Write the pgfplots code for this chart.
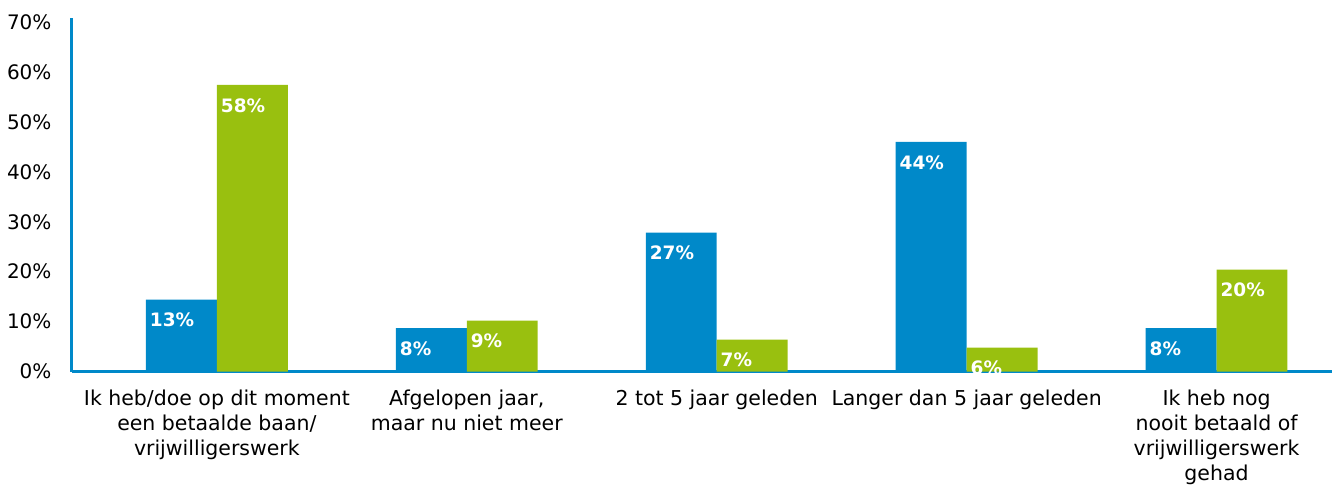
\documentclass[border=0pt]{standalone}
\usepackage{pgfplots}
\pgfplotsset{compat=1.18}
\usepackage{fontspec}
\setmainfont{DejaVu Sans}
\definecolor{cblue}{HTML}{0089C9}
\definecolor{cgreen}{HTML}{99C00F}
\begin{document}
\begin{tikzpicture}
\begin{axis}[
  scale only axis,
  width=1261pt, height=354pt,
  ymin=0, ymax=70.8,
  xmin=-0.58, xmax=4.46,
  ytick={0,10,...,70},
  yticklabel={\pgfmathprintnumber{\tick}\%},
  /pgf/number format/assume math mode=true,
  yticklabel style={font=\fontsize{20}{24}\selectfont, text=black, xshift=-17pt},
  xtick={0,1,2,3,4},
  xticklabels={{Ik heb/doe op dit moment\\een betaalde baan/\\vrijwilligerswerk},
               {Afgelopen jaar,\\maar nu niet meer},
               {2 tot 5 jaar geleden},
               {Langer dan 5 jaar geleden},
               {Ik heb nog\\nooit betaald of\\vrijwilligerswerk\\gehad}},
  xticklabel style={font=\fontsize{20.5}{25}\selectfont, align=center, text=black, anchor=north, yshift=-15pt},
  major tick length=0pt,
  axis x line*=bottom, axis y line*=left,
  axis line style={draw=cblue, line width=3pt, -},
  ybar=0pt, bar width=71pt,
  ytick style={draw=none}, xtick style={draw=none},
  clip=false,
  nodes near coords,
  point meta=explicit symbolic,
  every node near coord/.append style={anchor=north west, xshift=-35pt, yshift=-10pt, text=white, font=\bfseries\fontsize{18.5}{22}\selectfont},
]
\addplot[fill=cblue, draw=none] coordinates {(0,14.4)[13\%] (1,8.7)[8\%] (2,27.8)[27\%] (3,46)[44\%] (4,8.7)[8\%]};
\addplot[fill=cgreen, draw=none] coordinates {(0,57.4)[58\%] (1,10.2)[9\%] (2,6.4)[7\%] (3,4.8)[6\%] (4,20.4)[20\%]};
\end{axis}
\path (current axis.south west) ++(-72pt,-116pt) rectangle ([yshift=18pt]current axis.north east);
\end{tikzpicture}
\end{document}
